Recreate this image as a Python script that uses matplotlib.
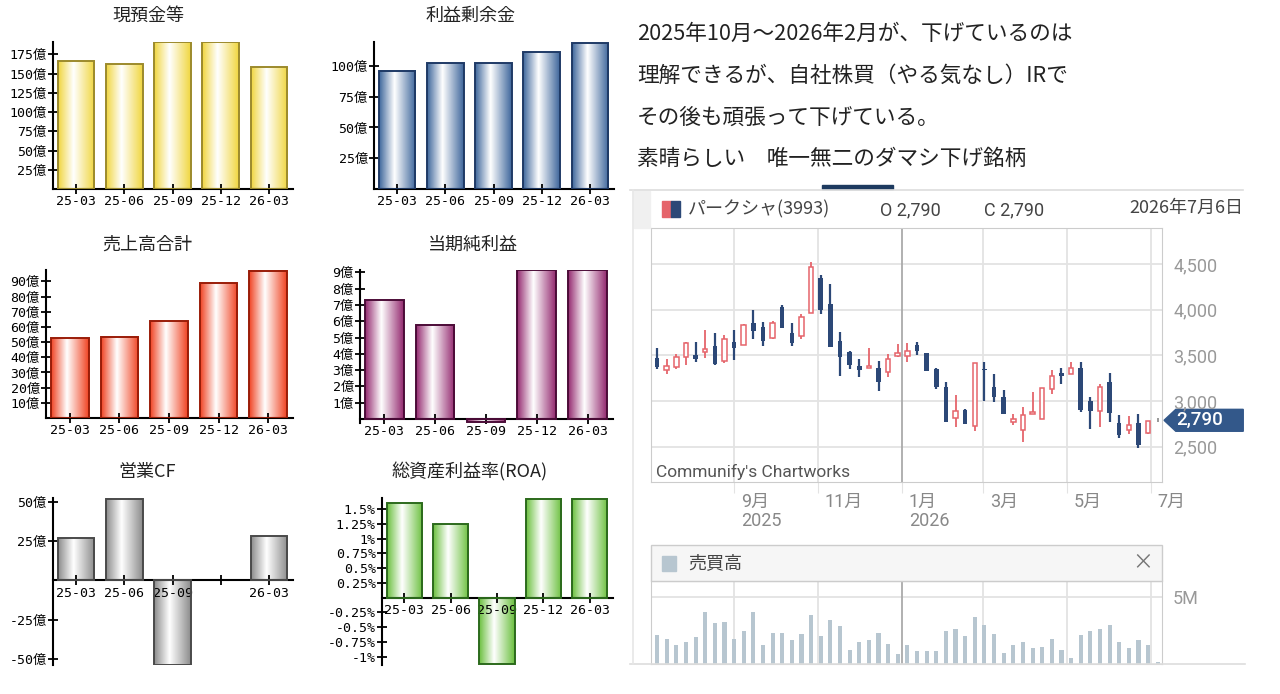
import numpy as np
import pandas as pd
import matplotlib
matplotlib.use('Agg')
import matplotlib.pyplot as plt
from matplotlib.colors import LinearSegmentedColormap
from matplotlib.patches import Rectangle, Polygon
from matplotlib.transforms import blended_transform_factory, ScaledTranslation

plt.rcParams['font.family'] = ['Noto Sans CJK JP', 'DejaVu Sans']

### Financial data (億 / %)
periods    = ['25-03', '25-06', '25-09', '25-12', '26-03']
cash       = [166, 162, 191, 191, 158]
retained   = [96, 102.4, 102.4, 111, 118.5]
sales      = [52.5, 53.6, 63.8, 88.7, 97]
net_income = [7.3, 5.8, -0.2, 9.12, 9.12]
op_cf      = [26.7, 51.8, -53.7, None, 28]
roa        = [1.60, 1.25, -1.12, 1.68, 1.68]

### Weekly price data (パークシャ 3993)
week_start = '2025-07-07'
opens  = [3467, 3339, 3376, 3485, 3504, 3533, 3606, 3438, 3642, 3613, 3850, 3814, 3686,
          4026, 3748, 3712, 3960, 4350, 4058, 3657, 3540, 3387, 3358, 3365, 3321, 3496,
          3496, 3613, 3522, 3350, 3157, 2810, 2901, 2730, 3350, 3157, 3040, 2774, 2682,
          2858, 2803, 3131, 3303, 3296, 3365, 3003, 2890, 3212, 2763, 2682, 2763, 2646, 2790]
highs  = [3584, 3456, 3511, 3642, 3650, 3777, 3741, 3723, 3774, 3839, 3996, 3861, 3876,
          4051, 3858, 3949, 4518, 4380, 4277, 3752, 3547, 3460, 3584, 3438, 3511, 3620,
          3631, 3642, 3522, 3365, 3212, 3066, 2909, 3420, 3431, 3292, 3120, 2854, 2938,
          3102, 3146, 3339, 3358, 3423, 3431, 3047, 3182, 3310, 2847, 2839, 2854, 2785, 2810]
lows   = [3347, 3296, 3350, 3394, 3431, 3467, 3398, 3412, 3449, 3613, 3675, 3606, 3675,
          3796, 3606, 3675, 3960, 3949, 3595, 3277, 3350, 3266, 3358, 3109, 3266, 3485,
          3431, 3504, 3328, 3131, 2766, 2719, 2748, 2675, 3004, 2985, 2858, 2744, 2555,
          2858, 2803, 3073, 3186, 3296, 2876, 2693, 2719, 2774, 2591, 2638, 2489, 2635, 2775]
closes = [3369, 3383, 3485, 3639, 3456, 3569, 3405, 3675, 3577, 3832, 3766, 3661, 3850,
          3803, 3631, 3916, 4464, 3996, 3595, 3478, 3394, 3339, 3380, 3204, 3456, 3522,
          3551, 3547, 3332, 3150, 2766, 2890, 2748, 3412, 3340, 3047, 2858, 2803, 2847,
          2883, 3146, 3277, 3277, 3358, 2901, 2894, 3157, 2871, 2627, 2744, 2518, 2781, 2790]
volume_m = [2.13, 1.88, 1.44, 1.66, 2.00, 3.89, 3.04, 3.17, 1.88, 2.48, 3.89, 1.41, 2.35,
            2.35, 1.76, 2.23, 3.64, 2.10, 3.29, 2.82, 1.06, 1.66, 1.76, 2.35, 1.53, 0.72,
            1.41, 0.94, 0.94, 0.94, 2.48, 2.60, 2.10, 3.51, 2.95, 2.23, 0.82, 1.41, 1.66,
            1.19, 1.29, 1.88, 1.06, 0.47, 2.13, 2.48, 2.60, 2.95, 1.66, 1.19, 1.76, 1.41, 0.12]
price_ticks  = [2500, 3000, 3500, 4000, 4500]
month_starts = ['2025-09-01', '2025-11-01', '2026-01-01', '2026-03-01', '2026-05-01', '2026-07-01']
month_labels = ['9月', '11月', '1月', '3月', '5月', '7月']
year_marks   = [('2025-09-01', '2025'), ('2026-01-01', '2026')]

comment_lines = ['2025年10月～2026年2月が、下げているのは',
                 '理解できるが、自社株買（やる気なし）IRで',
                 'その後も頑張って下げている。',
                 '素晴らしい　唯一無二のダマシ下げ銘柄']

W, H = 1280, 694
fig = plt.figure(figsize=(12.8, 6.94), dpi=100)

def box(x0, y0, x1, y1):
    return fig.add_axes([x0 / W, 1 - y1 / H, (x1 - x0) / W, (y1 - y0) / H])

def ftext(px, py, s, **kw):
    fig.text(px / W, 1 - py / H, s, **kw)

mono = ['DejaVu Sans Mono', 'Noto Sans CJK JP']

### Left: small financial bar charts
def fin_panel(vals, title, pxbox, ylim, yticks, unit, edge, border, title_xy, zero_axis=False):
    ax = box(*pxbox)
    ax.set_facecolor('none')
    x = np.arange(len(periods))
    keep = [i for i, v in enumerate(vals) if v is not None]
    bars = ax.bar(x[keep], [vals[i] for i in keep], width=0.76, facecolor='none',
                  edgecolor=border, linewidth=1.4, zorder=3)
    cmap = LinearSegmentedColormap.from_list(title, [(0, edge), (0.42, 'white'), (1, edge)])
    grad = np.linspace(0, 1, 100).reshape(1, -1)
    for b in bars:
        x0, y0, w, h = b.get_x(), b.get_y(), b.get_width(), b.get_height()
        ax.imshow(grad, cmap=cmap, extent=(x0, x0 + w, y0, y0 + h), aspect='auto',
                  interpolation='bilinear', zorder=2)
    ax.set_xlim(-0.48, 4.5)
    ax.set_ylim(*ylim)
    ax.set_xticks(x)
    ax.set_xticklabels([p if v is not None else '' for p, v in zip(periods, vals)])
    ax.set_yticks(yticks)
    ax.set_yticklabels([f'{t:g}{unit}' for t in yticks])
    ax.spines['top'].set_visible(False)
    ax.spines['right'].set_visible(False)
    if zero_axis:
        ax.spines['bottom'].set_position(('data', 0))
    ax.spines['left'].set_linewidth(1.5)
    ax.spines['bottom'].set_linewidth(1.5)
    ax.set_axisbelow(False)
    ax.tick_params(direction='inout', length=7, width=1.3, labelsize=9.5, pad=1)
    for lab in ax.get_xticklabels() + ax.get_yticklabels():
        lab.set_family(mono)
    ftext(title_xy[0], title_xy[1], title, ha='center', va='center', fontsize=13, color='#222')

fin_panel(cash, '現預金等', (53, 42, 293, 189), (0, 191), np.arange(25, 176, 25), '億',
          '#f0d640', '#9c8a2c', (148, 16))
fin_panel(retained, '利益剰余金', (374, 42, 614, 189), (0, 119.5), np.arange(25, 101, 25), '億',
          '#3f679c', '#1f3a66', (470, 16))
fin_panel(sales, '売上高合計', (46, 270, 293, 418), (0, 97.5), np.arange(10, 91, 10), '億',
          '#f04424', '#9a1c08', (147, 245))
fin_panel(net_income, '当期純利益', (360, 270, 613, 423), (-0.25, 9.15), np.arange(1, 10), '億',
          '#942a70', '#4c0c38', (473, 245), zero_axis=True)
fin_panel(op_cf, '営業CF', (53, 498, 293, 665), (-54, 52.5), [-50, -25, 25, 50], '億',
          '#8c8c8c', '#4a4a4a', (147, 472), zero_axis=True)
fin_panel(roa, '総資産利益率(ROA)', (382, 498, 613, 665), (-1.14, 1.69),
          [-1, -0.75, -0.5, -0.25, 0.25, 0.5, 0.75, 1, 1.25, 1.5], '%',
          '#6cc040', '#2c6a1c', (470, 472), zero_axis=True)

### Right: comment text
for i, line in enumerate(comment_lines):
    ftext(637, 34 + i * 41.7, line, ha='left', va='center', fontsize=15.6, color='#222')

### Chart widget frame
navy = '#2c4877'
red = '#e5646b'
grid_c = '#e3e3e3'
fig.add_artist(plt.Line2D([630 / W, 1243 / W], [1 - 190 / H] * 2, color='#dddddd', lw=1.2))
fig.add_artist(plt.Line2D([630 / W, 1245 / W], [1 - 664 / H] * 2, color='#dddddd', lw=1.2))
fig.add_artist(plt.Line2D([633 / W] * 2, [1 - 190 / H, 1 - 664 / H], color='#e6e6e6', lw=1.2))
fig.add_artist(Rectangle((822 / W, 1 - 189 / H), 71 / W, 3.5 / H, color='#1d3a5f',
                         transform=fig.transFigure))
fig.add_artist(Rectangle((634 / W, 1 - 228 / H), 16 / W, 37 / H, color='#f0f0f0',
                         transform=fig.transFigure))

dates = pd.date_range(week_start, periods=len(closes), freq='7D')
o, hi, lo, c = map(np.array, (opens, highs, lows, closes))
up, dn, fl = c > o, c < o, c == o
months = pd.to_datetime(month_starts)
xlim = (dates[0] - pd.Timedelta(days=4.4), dates[-1] + pd.Timedelta(days=3.1))

# header row
fig.add_artist(Rectangle((662 / W, 1 - 217 / H), 9 / W, 16 / H, color=red, transform=fig.transFigure))
fig.add_artist(Rectangle((671 / W, 1 - 217 / H), 9 / W, 16 / H, color=navy, transform=fig.transFigure))
ftext(688, 209, 'パークシャ(3993)', ha='left', va='center', fontsize=13, color='#444')
ftext(880, 210, f'O {opens[-1]:,}', ha='left', va='center', fontsize=13, color='#444',
      family=['Roboto', 'DejaVu Sans'])
ftext(984, 210, f'C {closes[-1]:,}', ha='left', va='center', fontsize=13, color='#444',
      family=['Roboto', 'DejaVu Sans'])
ftext(1243, 208, '2026年7月6日', ha='right', va='center', fontsize=13, color='#444')

### Price panel
axp = box(651, 228, 1162, 482)
for y in price_ticks:
    axp.axhline(y, color=grid_c, lw=1.3, zorder=0)
for m in months:
    axp.axvline(m, color='#aaaaaa' if m.month == 1 else grid_c, lw=1.3, zorder=0)
axp.vlines(dates[up], lo[up], hi[up], color=red, lw=1.3, zorder=2)
axp.bar(dates[up], c[up] - o[up], bottom=o[up], width=3.3, facecolor='white',
        edgecolor=red, lw=1.1, zorder=3)
axp.vlines(dates[dn], lo[dn], hi[dn], color=navy, lw=1.6, zorder=2)
axp.bar(dates[dn], o[dn] - c[dn], bottom=c[dn], width=3.3, color=navy, zorder=3)
axp.vlines(dates[fl], lo[fl], hi[fl], color='#888888', lw=1.2, zorder=2)
axp.bar(dates[fl], 4, bottom=c[fl], width=2.5, color='#888888', zorder=3)
axp.set_xlim(*xlim)
axp.set_ylim(2115, 4894)
axp.yaxis.tick_right()
axp.set_yticks(price_ticks)
axp.set_yticklabels([f'{v:,}' for v in price_ticks])
axp.tick_params(axis='y', length=0, pad=8, labelsize=13, labelcolor='#999999')
axp.set_xticks(months)
axp.set_xticklabels(month_labels, ha='left')
axp.tick_params(axis='x', length=8, color=grid_c, pad=0, labelsize=13, labelcolor='#888888')
shift = ScaledTranslation(7 / 100, 0, fig.dpi_scale_trans)
for lab in axp.get_xticklabels() + axp.get_yticklabels():
    lab.set_family(['Roboto', 'Noto Sans CJK JP'])
for lab in axp.get_xticklabels():
    lab.set_transform(lab.get_transform() + shift)
for s in axp.spines.values():
    s.set_color('#cccccc')
yr_trans = blended_transform_factory(axp.transData, axp.transAxes) + shift
for d, yr in year_marks:
    axp.text(pd.Timestamp(d), -0.155, yr, transform=yr_trans, ha='left', va='center',
             fontsize=13, color='#888888', family=['Roboto'])
axp.text(0.01, 0.04, "Communify's Chartworks", transform=axp.transAxes, ha='left',
         va='center', fontsize=12.5, color='#555555', family=['Roboto'])

# last-price tag
tag_tr = blended_transform_factory(axp.transAxes, axp.transData)
last = closes[-1]
axp.add_patch(Polygon([(1.004, last), (1.027, last + 120), (1.159, last + 120),
                       (1.159, last - 120), (1.027, last - 120)], closed=True,
                      color='#33588a', transform=tag_tr, clip_on=False))
axp.text(1.074, last, f'{last:,}', transform=tag_tr, ha='center', va='center',
         fontsize=13.5, color='white', family=['Roboto'], fontweight='medium')

### Volume panel
fig.add_artist(Rectangle((651 / W, 1 - 581 / H), 511 / W, 36 / H, facecolor='#f6f6f6',
                         edgecolor='#cccccc', lw=1, transform=fig.transFigure))
fig.add_artist(Rectangle((662 / W, 1 - 571 / H), 14 / W, 15 / H, color='#b7c6d0',
                         transform=fig.transFigure))
ftext(688, 563, '売買高', ha='left', va='center', fontsize=13, color='#444')
ftext(1143, 562, '×', ha='center', va='center', fontsize=15, color='#777777')

axv = box(651, 581, 1162, 664)
axv.axhline(5e6, color=grid_c, lw=1.3, zorder=0)
for m in months:
    axv.axvline(m, color='#aaaaaa' if m.month == 1 else grid_c, lw=1.3, zorder=0)
axv.bar(dates, np.array(volume_m) * 1e6, width=3.0, color='#b7c6d0', zorder=2)
axv.set_xlim(*xlim)
axv.set_ylim(0, 6.2e6)
axv.yaxis.tick_right()
axv.set_yticks([5e6])
axv.set_yticklabels(['5M'], family=['Roboto'])
axv.tick_params(axis='y', length=0, pad=8, labelsize=13, labelcolor='#999999')
axv.set_xticks([])
for s in axv.spines.values():
    s.set_color('#cccccc')

fig.savefig('out.png', dpi=100)
